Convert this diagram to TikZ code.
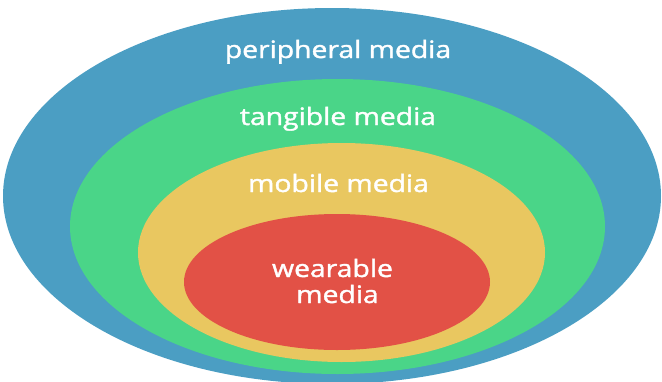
\documentclass[tikz,border=0pt]{standalone}
\usepackage{fontspec}
\setmainfont{Open Sans}
\newfontfamily\lblfont{Open Sans}[FakeBold=1.4]
\definecolor{cblue}{RGB}{75,158,195}
\definecolor{cgreen}{RGB}{74,213,136}
\definecolor{cyellow}{RGB}{233,199,96}
\definecolor{cred}{RGB}{226,81,70}
\tikzset{
  lbl/.style={text=white, anchor=base, inner sep=0pt, font=\lblfont\fontsize{24}{27}\selectfont, xscale=1.18, align=center},
}
\begin{document}
\begin{tikzpicture}[x=1pt,y=-1pt]
\useasboundingbox (0,0) rectangle (662,381);
\clip (0,0) rectangle (662,381);
\fill[cblue] (332,196) ellipse [x radius=329, y radius=188];
\fill[cgreen] (337.5,226.5) ellipse [x radius=267.5, y radius=147.5];
\fill[cyellow] (341.5,252.5) ellipse [x radius=203.5, y radius=109.5];
\fill[cred] (337,282) ellipse [x radius=153, y radius=68];
\node[lbl] (peri) at (338,58) {peripheral media};
\node[lbl] (tang) at (338,125) {tangible media};
\node[lbl] (mob) at (338.5,192) {mobile media};
\node[lbl] (wear) at (332.5,277) {wearable};
\node[lbl] (wmed) at (337.5,303) {media};
\end{tikzpicture}
\end{document}
